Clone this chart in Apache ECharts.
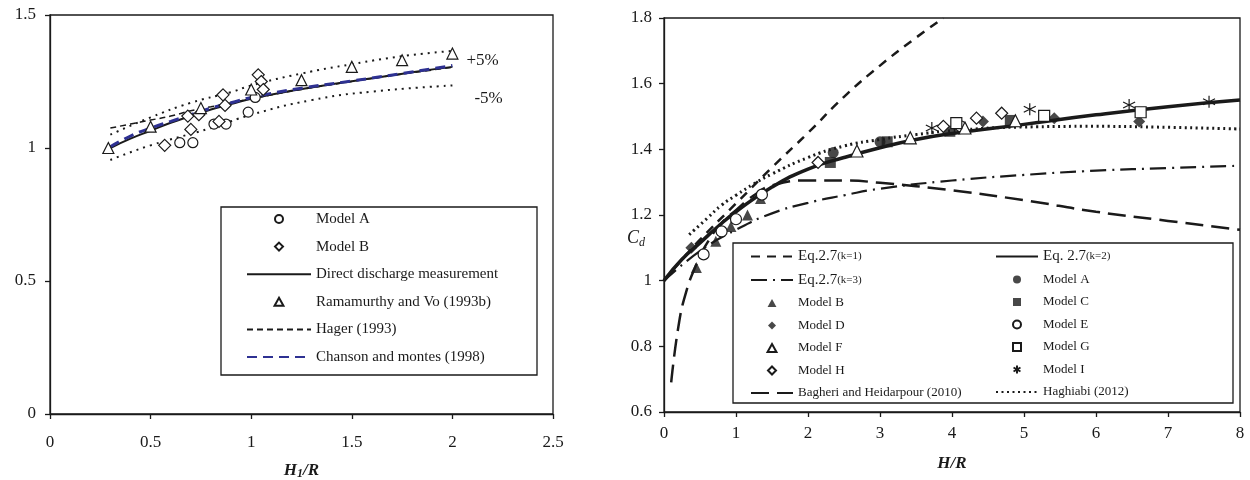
<!DOCTYPE html>
<html>
<head>
<meta charset="utf-8">
<script src="https://cdn.jsdelivr.net/npm/echarts@6/dist/echarts.min.js"></script>
<style>
  html, body { margin: 0; background: #fff; }
  #chart { width: 1250px; height: 480px; }
</style>
</head>
<body>
<div id="chart"></div>
<script>
// ---- left panel : H1/R vs Cd ----
const leftX = [0, 2.5, 0.5];   // min, max, step
const leftY = [0, 1.5, 0.5];

const directLine = [[0.3,1.0],[0.4,1.035],[0.5,1.065],[0.6,1.095],[0.7,1.12],[0.8,1.145],[0.9,1.165],[1.0,1.185],[1.2,1.215],[1.4,1.24],[1.6,1.262],[1.8,1.285],[2.0,1.305]];
const hagerLine  = [[0.3,1.075],[0.4,1.09],[0.5,1.105],[0.6,1.12],[0.7,1.14],[0.8,1.155],[0.9,1.17],[1.0,1.185],[1.25,1.22],[1.5,1.25],[1.75,1.278],[2.0,1.303]];
const chansonLine = [[0.3,1.005],[0.4,1.045],[0.5,1.075],[0.6,1.1],[0.7,1.125],[0.8,1.15],[0.9,1.17],[1.0,1.19],[1.25,1.225],[1.5,1.252],[1.75,1.28],[2.0,1.31]];
const plus5Line  = [[0.3,1.05],[0.5,1.115],[0.7,1.17],[0.9,1.21],[1.0,1.235],[1.25,1.28],[1.5,1.315],[1.75,1.345],[2.0,1.365]];
const minus5Line = [[0.3,0.955],[0.5,1.01],[0.8,1.075],[1.0,1.125],[1.3,1.18],[1.6,1.212],[2.0,1.235]];

const leftModelA = [[0.645,1.02],[0.71,1.02],[0.815,1.09],[0.875,1.09],[0.985,1.135],[1.02,1.19]];
const leftModelB = [[0.57,1.01],[0.685,1.12],[0.70,1.07],[0.74,1.125],[0.84,1.1],[0.86,1.2],[0.87,1.16],[1.035,1.275],[1.05,1.25],[1.06,1.22]];
const ramamurthy = [[0.29,1.0],[0.5,1.08],[0.75,1.15],[1.0,1.22],[1.25,1.255],[1.5,1.305],[1.75,1.33],[2.0,1.355]];

const leftLegend = ['Model A', 'Model B', 'Direct discharge measurement', 'Ramamurthy and Vo (1993b)', 'Hager (1993)', 'Chanson and montes (1998)'];

// ---- right panel : H/R vs Cd ----
const rightX = [0, 8, 1];
const rightY = [0.6, 1.8, 0.2];

const eqK1 = [[0,1.0],[0.25,1.065],[0.5,1.125],[1,1.235],[1.5,1.345],[2,1.45],[2.5,1.56],[3,1.655],[3.5,1.74],[3.88,1.8]];
const eqK2 = [[0,1.0],[0.25,1.065],[0.5,1.115],[0.75,1.165],[1,1.21],[1.5,1.285],[2,1.34],[2.5,1.375],[3,1.405],[3.5,1.43],[4,1.448],[5,1.476],[6,1.505],[7,1.53],[8,1.55]];
const eqK3 = [[0,1.0],[0.5,1.09],[1,1.155],[1.5,1.205],[2,1.237],[2.5,1.26],[3,1.28],[4,1.305],[5,1.322],[6,1.335],[7,1.343],[8,1.35]];
const bagheri = [[0.1,0.69],[0.2,0.86],[0.3,0.96],[0.45,1.05],[0.6,1.115],[0.8,1.175],[1,1.215],[1.25,1.26],[1.5,1.29],[2,1.305],[2.5,1.305],[3,1.298],[4,1.275],[5,1.245],[6,1.21],[7,1.182],[8,1.155]];
const haghiabi = [[0.35,1.14],[0.6,1.19],[0.8,1.23],[1,1.26],[1.25,1.295],[1.5,1.325],[2,1.375],[2.5,1.41],[3,1.43],[3.5,1.445],[4,1.457],[5,1.468],[6,1.47],[7,1.467],[8,1.462]];

const modelA = [[2.35,1.39],[3.0,1.423]];
const modelB = [[0.45,1.04],[0.72,1.12],[0.93,1.165],[1.16,1.2],[1.34,1.25]];
const modelC = [[2.31,1.36],[3.1,1.423],[3.97,1.455],[4.81,1.488]];
const modelD = [[0.38,1.1],[4.43,1.485],[5.42,1.495],[6.6,1.485]];
const modelE = [[0.55,1.08],[0.8,1.15],[1.0,1.187],[1.36,1.262],[4.12,1.47]];
const modelF = [[2.68,1.395],[3.42,1.435],[4.18,1.465],[4.88,1.487]];
const modelG = [[4.06,1.48],[5.28,1.502],[6.62,1.513]];
const modelH = [[2.14,1.36],[3.88,1.47],[4.34,1.495],[4.69,1.51]];
const modelI = [[3.72,1.465],[5.08,1.522],[6.46,1.535],[7.57,1.545]];

const rightLegendL = ['Eq.2.7(k=1)', 'Eq.2.7(k=3)', 'Model B ', 'Model D', 'Model F', 'Model H', 'Bagheri and Heidarpour (2010)'];
const rightLegendR = ['Eq. 2.7(k=2)', 'Model A ', 'Model C', 'Model E', 'Model G', 'Model I', 'Haghiabi (2012)'];

const serif = 'Liberation Serif';
const ink = '#1a1a1a';
const asterisk = 'path://M5,0L5,10M0.67,2.5L9.33,7.5M0.67,7.5L9.33,2.5';
// square icons for the legend so shapes keep their aspect
const legendIcons = {
  diamond: 'path://M5,0L10,5L5,10L0,5Z',
  triangle: 'path://M5,0L10,9L0,9Z',
  rect: 'path://M0,0L10,0L10,10L0,10Z'
};
const symbolOf = {};
const lineNames = new Set();

function axisBase(r, gi) {
  return {
    type: 'value', gridIndex: gi, min: r[0], max: r[1], interval: r[2],
    nameMoveOverlap: false,
    axisLine: { show: true, onZero: false, lineStyle: { color: ink, width: 1.3 } },
    axisTick: { show: true, length: 5, lineStyle: { color: ink, width: 1.3 } },
    axisLabel: { color: ink, fontFamily: serif, fontSize: 17 },
    splitLine: { show: false }
  };
}

function line(name, data, xi, style, extra) {
  lineNames.add(name);
  return Object.assign({
    name: name, type: 'line', data: data, xAxisIndex: xi, yAxisIndex: xi,
    symbol: 'none', smooth: true, z: 2, lineStyle: style, itemStyle: { color: style.color }
  }, extra || {});
}

function dots(name, data, xi, symbol, size, filled) {
  symbolOf[name] = symbol;
  return {
    name: name, type: 'scatter', data: data, xAxisIndex: xi, yAxisIndex: xi,
    symbol: symbol, symbolSize: size, z: 5,
    itemStyle: filled ? { color: ink } :
      { color: symbol === asterisk ? 'transparent' : '#fff', borderColor: ink, borderWidth: 1.2, opacity: 1 }
  };
}

function legendItems(names) {
  return names.map(n => {
    if (lineNames.has(n)) return { name: n, itemStyle: { color: 'transparent', borderWidth: 0 } };
    const ic = legendIcons[symbolOf[n]];
    return ic ? { name: n, icon: ic } : { name: n };
  });
}

const legendFmt = n => {
  const m = n.match(/^(Eq\.\s?2\.7)(\(k=\d\))$/);
  return m ? '{e|' + m[1] + '}{s|' + m[2] + '}' : n.trim();
};

const series = [
  // left
  line('+5%', plus5Line, 0, { color: ink, width: 2, type: [2, 5] },
    { endLabel: { show: true, formatter: '+5%', offset: [6, 10], fontFamily: serif, fontSize: 17, color: ink } }),
  line('-5%', minus5Line, 0, { color: ink, width: 2, type: [2, 5] },
    { endLabel: { show: true, formatter: '-5%', offset: [14, 13], fontFamily: serif, fontSize: 17, color: ink } }),
  line('Hager (1993)', hagerLine, 0, { color: ink, width: 1.5, type: [6, 4] }),
  line('Direct discharge measurement', directLine, 0, { color: ink, width: 2 }),
  line('Chanson and montes (1998)', chansonLine, 0, { color: '#2e3192', width: 3, type: [10, 6] }),
  dots('Model A', leftModelA, 0, 'circle', 10, false),
  dots('Model B', leftModelB, 0, 'diamond', 12, false),
  dots('Ramamurthy and Vo (1993b)', ramamurthy, 0, 'triangle', 11, false),
  // right
  line('Eq.2.7(k=1)', eqK1, 1, { color: ink, width: 2.5, type: [9, 7] }),
  line('Eq.2.7(k=3)', eqK3, 1, { color: ink, width: 2.2, type: [16, 6, 2, 6] }),
  line('Bagheri and Heidarpour (2010)', bagheri, 1, { color: ink, width: 2.5, type: [18, 8] }),
  line('Haghiabi (2012)', haghiabi, 1, { color: ink, width: 3, type: [2, 3.5] }),
  line('Eq. 2.7(k=2)', eqK2, 1, { color: ink, width: 3.5 }),
  dots('Model A ', modelA, 1, 'circle', 11, true),
  dots('Model B ', modelB, 1, 'triangle', 11, true),
  dots('Model C', modelC, 1, 'rect', 11, true),
  dots('Model D', modelD, 1, 'diamond', 12, true),
  dots('Model E', modelE, 1, 'circle', 11, false),
  dots('Model F', modelF, 1, 'triangle', 12, false),
  dots('Model G', modelG, 1, 'rect', 11, false),
  dots('Model H', modelH, 1, 'diamond', 12, false),
  dots('Model I', modelI, 1, asterisk, 12, false)
];

const rightLegendText = {
  fontFamily: serif, fontSize: 13, color: ink, lineHeight: 14,
  rich: { e: { fontFamily: serif, fontSize: 15, color: ink, lineHeight: 14 },
          s: { fontFamily: serif, fontSize: 11, color: ink, lineHeight: 14 } }
};

const chart = echarts.init(document.getElementById('chart'));

const option = {
  backgroundColor: '#fff',
  animation: false,
  grid: [
    { left: 50, top: 15, width: 503, height: 399, show: true, borderColor: ink, borderWidth: 1.3,
      outerBoundsMode: 'none', containLabel: false },
    { left: 664, top: 18, width: 576, height: 394, show: true, borderColor: ink, borderWidth: 1.3,
      outerBoundsMode: 'none', containLabel: false }
  ],
  xAxis: [
    Object.assign(axisBase(leftX, 0), {
      name: '{b|H}{s|1}{b|/R}', nameLocation: 'middle', nameGap: 47,
      nameTextStyle: { rich: {
        b: { fontFamily: serif, fontSize: 17, fontWeight: 'bold', fontStyle: 'italic', color: ink },
        s: { fontFamily: serif, fontSize: 12, fontWeight: 'bold', fontStyle: 'italic', color: ink, padding: [7, 0, 0, 0] }
      } },
      axisLabel: { color: ink, fontFamily: serif, fontSize: 17, margin: 20 }
    }),
    Object.assign(axisBase(rightX, 1), {
      name: '{b|H}{b|/R}', nameLocation: 'middle', nameGap: 43,
      nameTextStyle: { rich: {
        b: { fontFamily: serif, fontSize: 17, fontWeight: 'bold', fontStyle: 'italic', color: ink }
      } },
      axisLabel: { color: ink, fontFamily: serif, fontSize: 17, margin: 13 }
    })
  ],
  yAxis: [
    Object.assign(axisBase(leftY, 0), {
      axisLabel: { color: ink, fontFamily: serif, fontSize: 17, margin: 14 }
    }),
    Object.assign(axisBase(rightY, 1), {
      name: '{c|C}{s|d}', nameLocation: 'middle', nameGap: 19, nameRotate: 0,
      nameTextStyle: { padding: [46, 0, 0, 0], rich: {
        c: { fontFamily: serif, fontSize: 18, fontStyle: 'italic', color: ink },
        s: { fontFamily: serif, fontSize: 12, fontStyle: 'italic', color: ink, padding: [10, 0, 0, 0] }
      } },
      axisLabel: { color: ink, fontFamily: serif, fontSize: 17, margin: 12 }
    })
  ],
  graphic: [
    { type: 'rect', z: 3, shape: { x: 221, y: 207, width: 316, height: 168 },
      style: { fill: '#fff', stroke: ink, lineWidth: 1.3 } },
    { type: 'rect', z: 3, shape: { x: 733, y: 243, width: 500, height: 160 },
      style: { fill: '#fff', stroke: ink, lineWidth: 1.3 } }
  ],
  legend: [
    { data: legendItems(leftLegend), orient: 'vertical', left: 246, top: 211, padding: 0, z: 10,
      itemWidth: 64, itemHeight: 8, itemGap: 11.6, selectedMode: false,
      textStyle: { fontFamily: serif, fontSize: 15, color: ink, lineHeight: 16 } },
    { data: legendItems(rightLegendL), orient: 'vertical', left: 750, top: 249, padding: 0, z: 10,
      itemWidth: 42, itemHeight: 8, itemGap: 8.5, selectedMode: false, formatter: legendFmt,
      textStyle: rightLegendText },
    { data: legendItems(rightLegendR), orient: 'vertical', left: 995, top: 249, padding: 0, z: 10,
      itemWidth: 42, itemHeight: 8, itemGap: 8.5, selectedMode: false, formatter: legendFmt,
      textStyle: rightLegendText }
  ],
  series: series
};

chart.setOption(option);
</script>
</body>
</html>
